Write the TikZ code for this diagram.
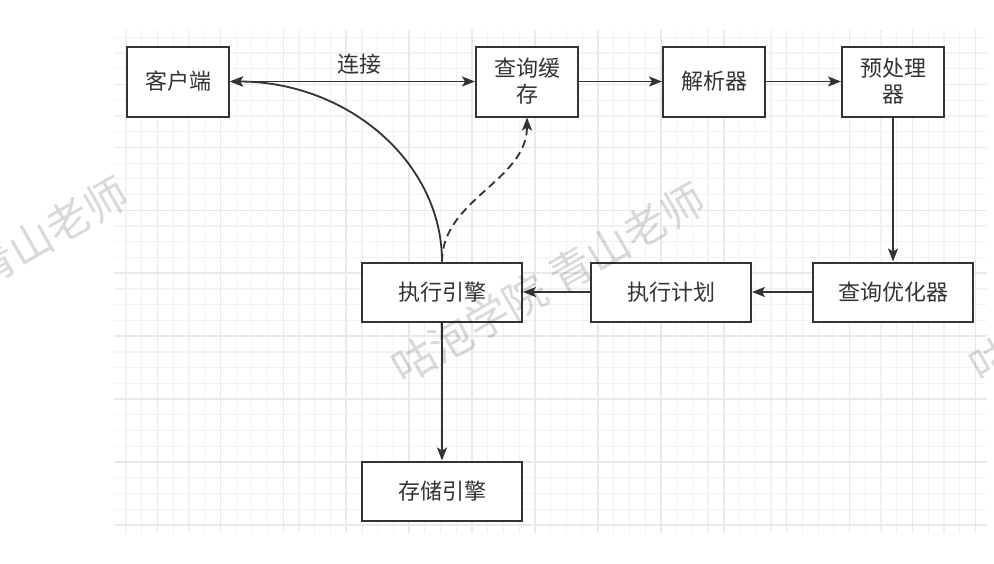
\documentclass[tikz,border=0pt]{standalone}
\usepackage{fontspec}
\newfontfamily\zhfont{Noto Sans CJK SC}
\usetikzlibrary{arrows.meta}
\definecolor{ink}{HTML}{333333}
\definecolor{gridminor}{HTML}{F2F2F2}
\definecolor{gridmajor}{HTML}{E9E9E9}

\begin{document}
\begin{tikzpicture}[x=0.5pt,y=-0.5pt,
   >={Stealth[length=6.5pt,width=5pt,inset=1.5pt]},
   box/.style={rectangle,draw=ink,fill=white,line width=1pt,minimum width=51pt,
    minimum height=35pt,inner sep=+1pt,text=ink,align=center,
    font=\zhfont\fontsize{11}{13}\selectfont},
   widebox/.style={box,minimum width=80pt,minimum height=29.5pt},
   line/.style={draw=ink,line width=0.9pt},
   lbl/.style={text=ink,inner sep=0pt,font=\zhfont\fontsize{11}{13}\selectfont},
   minor/.style={draw=gridminor,line width=0.6pt},
   major/.style={draw=gridmajor,line width=0.8pt},
   wmark/.style={text=black,text opacity=0.15,rotate=30,
    font=\zhfont\fontsize{21.5}{22}\selectfont}
    ]
  \useasboundingbox (0,0) rectangle (994,563);
  \fill[white] (0,0) rectangle (994,563);

  % -- grid
  \foreach \k in {0,...,54}
    \draw[minor] ({126+15.73*\k},30) -- ({126+15.73*\k},533);
  \foreach \k in {-4,...,27}
    \draw[minor] (114,{462-15.73*\k}) -- (987,{462-15.73*\k});
  \foreach \k in {2,6,...,54}
    \draw[major] ({126+15.73*\k},30) -- ({126+15.73*\k},533);
  \foreach \k in {-4,0,...,24}
    \draw[major] (114,{462-15.73*\k}) -- (987,{462-15.73*\k});

  % -- boxes
  \node[box] at (178,81.5) (client) {客户端};
  \node[box] at (527,81.5) (cache) {查询缓\\存};
  \node[box] at (714,81.5) (parser) {解析器};
  \node[box] at (893,81.5) (prep) {预处理\\器};
  \node[widebox] at (893,292) (optim) {查询优化器};
  \node[widebox] at (671,292) (plan) {执行计划};
  \node[widebox] at (442,292) (exec) {执行引擎};
  \node[widebox] at (442,491) (store) {存储引擎};

  % -- arrows
  \draw[line,<->] (client) -- node[lbl,pos=0.53,yshift=8.5pt] (conn) {连接} (cache);
  \draw[line,->] (cache) -- (parser);
  \draw[line,->] (parser) -- (prep);
  \draw[line,->] (prep) -- (optim);
  \draw[line,->] (optim) -- (plan);
  \draw[line,->] (plan) -- (exec);
  \draw[line,->] (exec) -- (store);
  \draw[line,->] (exec.north) .. controls +(0,-99) and +(118,0) .. (client.east);
  \draw[line,->,dash pattern=on 4pt off 2.5pt] (exec.north)
    .. controls +(0,-62) and +(0,63) .. (cache.south);

  % -- watermark
  \begin{scope}
    \clip (0,0) rectangle (994,563);
    \node[wmark] at (-29,277) (wm1) {咕泡学院 青山老师};
    \node[wmark] at (548,283) (wm2) {咕泡学院 青山老师};
    \node[wmark] at (1126,282) (wm3) {咕泡学院 青山老师};
  \end{scope}

\end{tikzpicture}
\end{document}
